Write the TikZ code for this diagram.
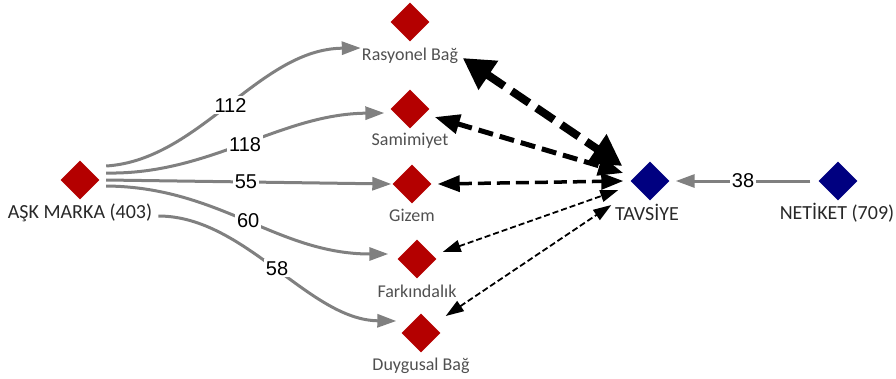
\documentclass[tikz,border=0pt]{standalone}
\usepackage{fontspec}
\setmainfont{Carlito}
\newfontfamily\numfont{Liberation Sans}
\usetikzlibrary{shapes.geometric,arrows.meta}

\definecolor{nodered}{RGB}{180,0,0}
\definecolor{nodeblue}{RGB}{0,0,128}
\definecolor{edgegray}{RGB}{128,128,128}
\definecolor{labgray}{RGB}{80,80,80}
\definecolor{labdark}{RGB}{40,40,40}

\tikzset{
  dia/.style={diamond, minimum width=39pt, minimum height=39pt, inner sep=0pt},
  reddia/.style={dia, fill=nodered},
  bluedia/.style={dia, fill=nodeblue},
  biglab/.style={font=\fontsize{20}{20}\selectfont, text=labdark, inner sep=1pt},
  smalllab/.style={font=\fontsize{18}{18}\selectfont, text=labgray, inner sep=1pt},
  flow/.style={draw=edgegray, line width=3pt, -{Triangle[length=19pt,width=13pt]}},
  weight/.style={fill=white, inner sep=2pt, font=\numfont\fontsize{20}{20}\selectfont, text=black},
  linkA/.style={draw=black, line width=8pt, dash pattern=on 21pt off 9pt,
    {Triangle[length=31pt,width=33pt]}-{Triangle[length=31pt,width=33pt]}},
  linkB/.style={draw=black, line width=5pt, dash pattern=on 15pt off 7pt,
    {Triangle[length=25pt,width=19pt]}-{Triangle[length=25pt,width=19pt]}},
  linkC/.style={draw=black, line width=3.5pt, dash pattern=on 13pt off 6pt,
    {Triangle[length=22pt,width=16pt]}-{Triangle[length=22pt,width=16pt]}},
  linkD/.style={draw=black, line width=1.8pt, dash pattern=on 6pt off 3pt,
    {Triangle[length=18pt,width=12pt]}-{Triangle[length=18pt,width=12pt]}},
}

\begin{document}
\begin{tikzpicture}[x=1pt,y=-1pt]
\useasboundingbox (0,0) rectangle (896,378);

% source and target nodes
\node[reddia] (ask) at (80,180) {};
\node[biglab] (asklab) at (80,213) {AŞK MARKA (403)};

\node[reddia] (ras) at (410,22) {};
\node[smalllab] (raslab) at (410,56) {Rasyonel Bağ};
\node[reddia] (sam) at (410,109) {};
\node[smalllab] (samlab) at (410,141) {Samimiyet};
\node[reddia] (giz) at (412,184) {};
\node[smalllab] (gizlab) at (412,215) {Gizem};
\node[reddia] (fark) at (417,259) {};
\node[smalllab] (farklab) at (417,291) {Farkındalık};
\node[reddia] (duy) at (421,333) {};
\node[smalllab] (duylab) at (421,366) {Duygusal Bağ};

\node[bluedia] (tav) at (650,181) {};
\node[biglab] (tavlab) at (647,212) {TAVSİYE};
\node[bluedia] (net) at (838,181) {};
\node[biglab] (netlab) at (837,213) {NETİKET (709)};

% weighted flows out of AŞK MARKA
\draw[flow] ([xshift=6.5pt,yshift=14pt]ask.east) .. controls (200,160) and (259,49) ..
  ([yshift=8pt]raslab.west) node[weight,pos=0.5] {112};
\draw[flow] ([xshift=6.5pt,yshift=7pt]ask.east) .. controls (210,175) and (280,114) ..
  ([xshift=-6pt,yshift=-4pt]sam.west) node[weight,pos=0.5] {118};
\draw[flow] ([xshift=6.5pt]ask.east) -- ([xshift=-1pt]giz.west) node[weight,pos=0.49] {55};
\draw[flow] ([xshift=6.5pt,yshift=-6pt]ask.east) .. controls (220,187) and (277,254) ..
  ([xshift=-9pt,yshift=5pt]fark.west) node[weight,pos=0.5] {60};
\draw[flow] ([xshift=5pt,yshift=-3pt]asklab.east) .. controls (245,216) and (309,320) ..
  ([xshift=-5pt,yshift=12pt]duy.west) node[weight,pos=0.5] {58};

% NETİKET into TAVSİYE
\draw[flow] ([xshift=-8pt]net.west) -- ([xshift=6pt]tav.east) node[weight,pos=0.5] {38};

% two-way links with TAVSİYE
\draw[linkA] ([xshift=3.5pt,yshift=-2pt]raslab.east) -- ([xshift=-8pt,yshift=15pt]tav.west);
\draw[linkB] ([xshift=5pt,yshift=-8pt]sam.east) -- ([xshift=-7pt,yshift=8pt]tav.west);
\draw[linkC] ([xshift=6pt]giz.east) -- ([xshift=-7pt]tav.west);
\draw[linkD] ([xshift=6pt,yshift=7pt]fark.east) -- ([xshift=-12pt,yshift=-9pt]tav.west);
\draw[linkD] ([xshift=5pt,yshift=17pt]duy.east) -- ([xshift=-19pt,yshift=-24pt]tav.west);
\end{tikzpicture}
\end{document}
